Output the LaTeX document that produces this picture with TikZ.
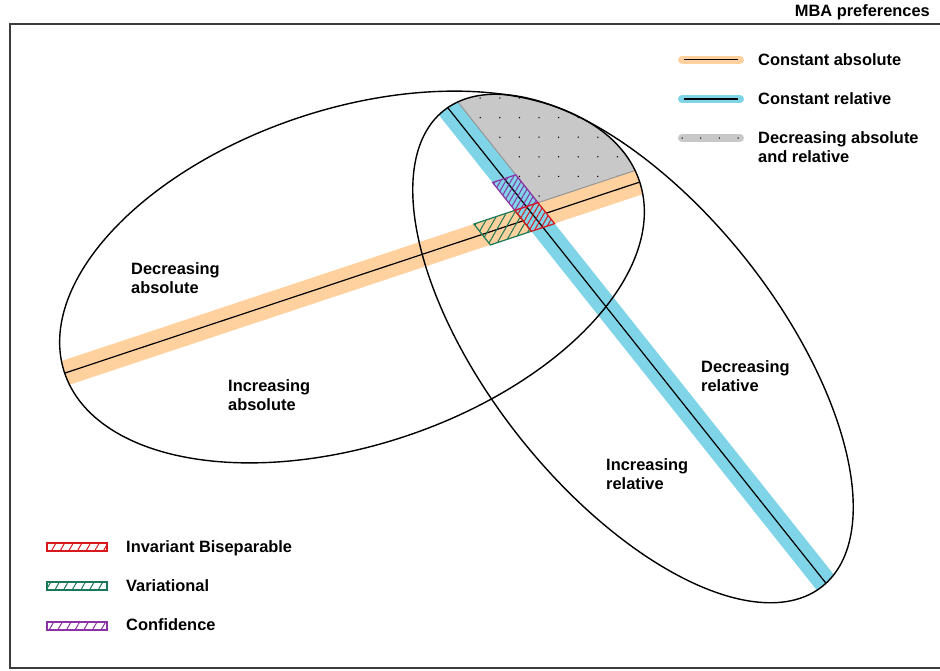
\documentclass[tikz,border=0pt]{standalone}
\usepackage{fontspec}
\setmainfont{Liberation Sans}
\usetikzlibrary{patterns.meta}
\definecolor{bandorange}{RGB}{255,209,158}
\definecolor{bandblue}{RGB}{127,212,232}
\definecolor{regiongray}{RGB}{200,200,200}
\definecolor{edgegray}{RGB}{150,150,150}
\definecolor{hatchredc}{RGB}{215,25,30}
\definecolor{hatchgreenc}{RGB}{25,120,85}
\definecolor{hatchpurplec}{RGB}{140,50,165}
\definecolor{framegray}{RGB}{60,60,60}
\newcommand{\ellAbs}{plot[domain=0:360,samples=241,variable=\t] ({352+303*cos(\t)*0.9489+168*sin(\t)*0.3156},{277-303*cos(\t)*0.3156+168*sin(\t)*0.9489}) -- cycle}
\newcommand{\ellRel}{plot[domain=0:360,samples=241,variable=\t] ({633+304*cos(\t)*0.6225-144*sin(\t)*0.7827},{348.5+304*cos(\t)*0.7827+144*sin(\t)*0.6225}) -- cycle}
\begin{document}
\begin{tikzpicture}[x=1pt,y=-1pt,
  lbl/.style={font=\fontsize{16.4}{19}\selectfont\bfseries, inner sep=0pt, anchor=base west},
  outline/.style={line width=1.4pt, black},
  centerline/.style={line width=1.2pt, black},
  hatchbase/.style={line width=1.2pt},
  hatchred/.style={hatchbase, draw=hatchredc, pattern color=hatchredc, pattern={Lines[angle=60,distance=4.5pt,line width=1pt]}},
  hatchgreen/.style={hatchbase, draw=hatchgreenc, pattern color=hatchgreenc, pattern={Lines[angle=60,distance=7pt,line width=1pt]}},
  hatchpurple/.style={hatchbase, draw=hatchpurplec, pattern color=hatchpurplec, pattern={Lines[angle=60,distance=4.5pt,line width=1pt]}},
  legred/.style={hatchbase, draw=hatchredc, pattern color=hatchredc, pattern={Lines[angle=60,distance=7.5pt,line width=1pt]}},
  leggreen/.style={hatchbase, draw=hatchgreenc, pattern color=hatchgreenc, pattern={Lines[angle=60,distance=7.5pt,line width=1pt]}},
  legpurple/.style={hatchbase, draw=hatchpurplec, pattern color=hatchpurplec, pattern={Lines[angle=60,distance=7.5pt,line width=1pt]}},
  swatch/.style={line width=8pt, line cap=round}
]
\useasboundingbox (0,0) rectangle (940,670);
\clip (0,0) rectangle (940,670);
% frame
\draw[framegray, line width=1.4pt] (10,24) rectangle (960,668);
% orange band (constant absolute)
\begin{scope}
  \clip \ellAbs;
  \draw[bandorange, line width=25pt] (36.5,382.5) -- (668.5,172.5);
  \draw[centerline] (36.5,382.5) -- (668.5,172.5);
\end{scope}
% blue band (constant relative)
\begin{scope}
  \clip \ellRel;
  \draw[bandblue, line width=23pt] (429.3,84.5) -- (843.7,605.5);
  \draw[centerline] (429.3,84.5) -- (843.7,605.5);
\end{scope}
% gray region
\begin{scope}
  \clip \ellAbs;
  \clip \ellRel;
  \clip (538.0,202.7) -- (1107.4,13.6) -- (733.9,-456) -- (164.5,-266.9) -- cycle;
  \fill[regiongray] (400,0) rectangle (700,260);
  \foreach \i in {0,...,12}{
    \foreach \j in {-1,...,6}{
      \fill (441+19.6*\i, 98+19.6*\j) circle (0.75);
    }
  }
\end{scope}
\begin{scope}
  \clip \ellAbs;
  \clip \ellRel;
  \draw[edgegray, line width=1pt] (164.5,-266.9) -- (538.0,202.7) -- (1107.4,13.6);
\end{scope}
% hatched regions
\draw[hatchgreen] (473.9,224.0) -- (514.8,210.4) -- (531.4,231.3) -- (490.4,244.9) -- cycle;
\draw[hatchpurple] (492.6,182.5) -- (515.8,174.8) -- (538.0,202.7) -- (514.8,210.4) -- cycle;
\draw[hatchred] (514.8,210.4) -- (538.0,202.7) -- (554.6,223.6) -- (531.4,231.3) -- cycle;
% ellipses
\draw[outline] \ellAbs;
\draw[outline] \ellRel;
% title
\node[lbl, anchor=base east] (title) at (930,16) {MBA preferences};
% legend top right
\draw[bandorange, swatch] (682,59.5) -- (740,59.5);
\draw[centerline] (684,59.5) -- (738,59.5);
\node[lbl] (lcabs) at (758,65) {Constant absolute};
\draw[bandblue, swatch] (682,99) -- (740,99);
\draw[centerline] (684,99) -- (738,99);
\node[lbl] (lcrel) at (758,104) {Constant relative};
\draw[regiongray, swatch] (682,138) -- (740,138);
\foreach \x in {682,700.7,719.3,738}{ \fill (\x,138) circle (0.75); }
\node[lbl] (ldec1) at (758,143) {Decreasing absolute};
\node[lbl] (ldec2) at (758,162) {and relative};
% region labels
\node[lbl] (da1) at (131,274) {Decreasing};
\node[lbl] (da2) at (131,293) {absolute};
\node[lbl] (ia1) at (228,391) {Increasing};
\node[lbl] (ia2) at (228,410) {absolute};
\node[lbl] (dr1) at (701,372) {Decreasing};
\node[lbl] (dr2) at (701,391) {relative};
\node[lbl] (ir1) at (606,470) {Increasing};
\node[lbl] (ir2) at (606,489) {relative};
% legend bottom left
\draw[legred] (47,543) rectangle (107,551);
\node[lbl] (lib) at (126,552) {Invariant Biseparable};
\draw[leggreen] (47,582) rectangle (107,590);
\node[lbl] (lvar) at (126,591) {Variational};
\draw[legpurple] (47,622) rectangle (107,630);
\node[lbl] (lconf) at (126,630) {Confidence};
\end{tikzpicture}
\end{document}
